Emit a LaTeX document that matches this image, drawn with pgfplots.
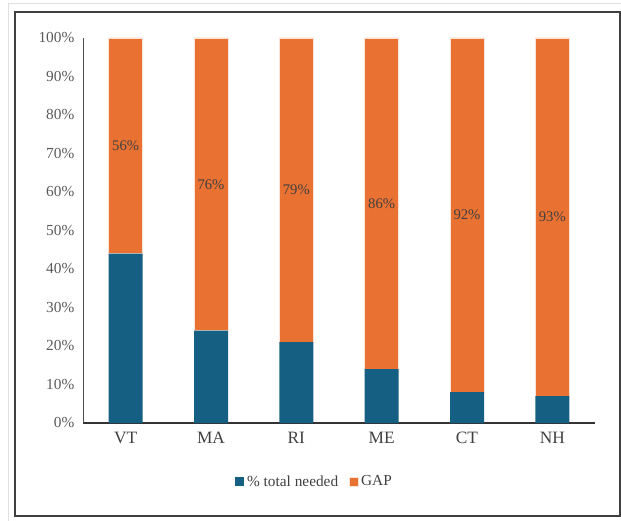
\documentclass[border=0pt]{standalone}
\usepackage{pgfplots}
\pgfplotsset{compat=1.18}
\usepackage{fontspec}
\setmainfont{Liberation Serif}
\definecolor{cblue}{HTML}{156082}
\definecolor{corange}{HTML}{E97132}
\definecolor{tickgray}{HTML}{595959}
\definecolor{labgray}{HTML}{404040}
\begin{document}
\begin{tikzpicture}
\useasboundingbox (0,0) rectangle (465.75pt,390.75pt);
\draw[black!12, line width=0.75pt] (6pt,387.75pt) -- (465.75pt,387.75pt);
\draw[black!12, line width=0.75pt] (6pt,0pt) -- (6pt,387.75pt);
\draw[black!75, line width=1.1pt] (11.25pt,3.75pt) rectangle (465pt,381.75pt);
\begin{axis}[
  at={(62.25pt,73.5pt)}, anchor=south west,
  scale only axis, width=384pt, height=288.75pt,
  ybar stacked, bar width=25.5pt,
  xmin=-0.5, xmax=5.5, ymin=0, ymax=100,
  xtick={0,1,2,3,4,5},
  xticklabels={VT,MA,RI,ME,CT,NH},
  ytick={0,10,...,100},
  yticklabel={\pgfmathprintnumber{\tick}\%},
  /pgf/number format/assume math mode=true,
  axis x line*=bottom, axis y line*=left,
  x axis line style={black!80, line width=0.9pt},
  y axis line style={black!70, line width=0.6pt},
  major tick length=0pt,
  tick style={draw=none},
  xticklabel style={font=\fontsize{13}{15}\selectfont, text=labgray, yshift=-3pt},
  yticklabel style={font=\fontsize{11.5}{13}\selectfont, text=tickgray, xshift=-3pt},
  legend style={at={(0.453,-0.153)}, anchor=center, draw=none, fill=none,
    legend columns=2, font=\fontsize{11.5}{13}\selectfont, text=labgray,
    /tikz/every even column/.append style={column sep=6pt}},
  legend image code/.code={\fill[#1] (0,-3.4pt) rectangle (6.8pt,3.4pt);},
  clip=false,
]
\addplot[fill=cblue, draw=none] coordinates {(0,44) (1,24) (2,21) (3,14) (4,8) (5,7)};
\addplot[fill=corange, draw=white!80!corange, line width=0.4pt] coordinates {(0,56) (1,76) (2,79) (3,86) (4,92) (5,93)};
\legend{\% total needed, GAP}
\coordinate (l0) at (axis cs:0,72);
\coordinate (l1) at (axis cs:1,62);
\coordinate (l2) at (axis cs:2,60.5);
\coordinate (l3) at (axis cs:3,57);
\coordinate (l4) at (axis cs:4,54);
\coordinate (l5) at (axis cs:5,53.5);
\end{axis}
\foreach \i/\lab in {0/56,1/76,2/79,3/86,4/92,5/93}{
  \node[font=\fontsize{11}{13}\selectfont, text=labgray] at (l\i) {\lab\%};
}
\end{tikzpicture}
\end{document}
